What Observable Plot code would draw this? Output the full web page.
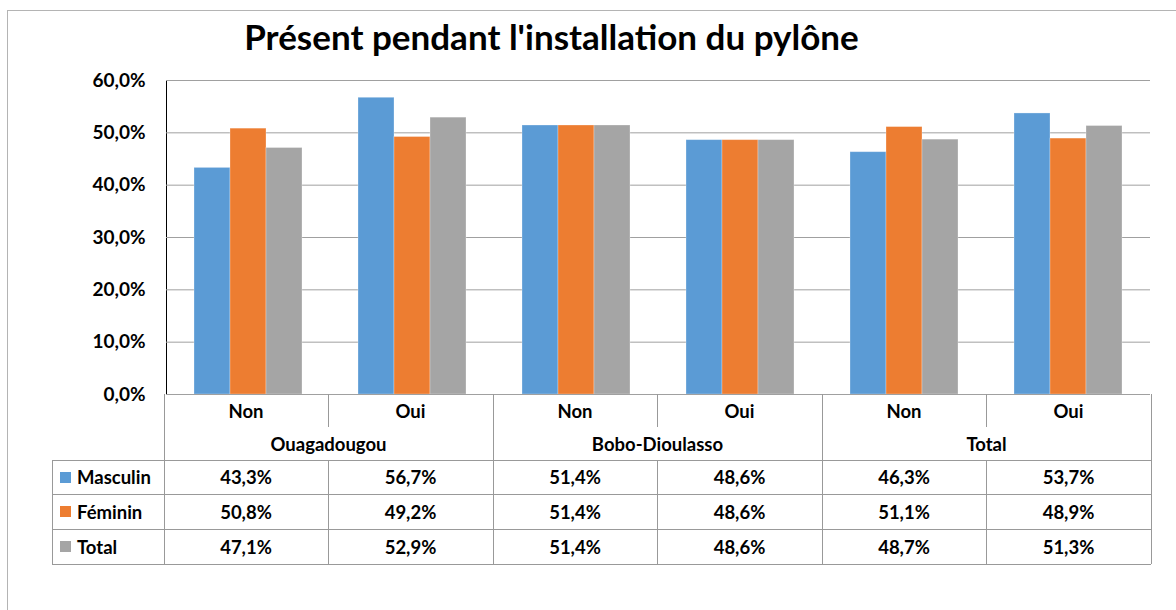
<!DOCTYPE html>
<html>
<head>
<meta charset="utf-8">
<script src="https://cdn.jsdelivr.net/npm/d3@7"></script>
<script src="https://cdn.jsdelivr.net/npm/@observablehq/plot@0.6"></script>
<style>
  html, body { margin: 0; padding: 0; background: #fff; }
  #wrap { position: relative; width: 1176px; height: 610px; overflow: hidden; font-family: Lato, "Open Sans", sans-serif; font-weight: bold; color: #000; }
  #chart { position: absolute; left: 0; top: 0; }
  .ln { position: absolute; background: #999999; }
  .cell { position: absolute; display: flex; align-items: center; justify-content: center; font-size: 18.5px; white-space: nowrap; }
  #title { position: absolute; left: 0; width: 1103px; top: 15px; text-align: center; font-size: 35px; }
  #frame { position: absolute; left: 7px; top: 10px; right: -10px; bottom: -10px; border-left: 1px solid #B4B4B4; border-top: 1px solid #B4B4B4; }
  .key { display: inline-block; width: 11px; height: 11px; margin-right: 6px; }
</style>
</head>
<body>
<div id="wrap">
  <div id="frame"></div>
  <div id="title">Présent pendant l'installation du pylône</div>
  <div id="chart"></div>
</div>
<script>
const groups = ["Ouagadougou", "Bobo-Dioulasso", "Total"];
const answers = ["Non", "Oui"];
const seriesNames = ["Masculin", "Féminin", "Total"];
const masculin = [43.3, 56.7, 51.4, 48.6, 46.3, 53.7];
const feminin  = [50.8, 49.2, 51.4, 48.6, 51.1, 48.9];
const total    = [47.1, 52.9, 51.4, 48.6, 48.7, 51.3];
const colors = ["#5B9BD5", "#ED7D31", "#A5A5A5"];
const yTicks = [0, 0.1, 0.2, 0.3, 0.4, 0.5, 0.6];

const seriesValues = [masculin, feminin, total];
const cats = [];
groups.forEach(g => answers.forEach(a => cats.push(g + " | " + a)));
const data = [];
cats.forEach((c, i) => seriesNames.forEach((s, j) => data.push({cat: c, series: s, value: seriesValues[j][i] / 100})));

const fmtPct = v => (v * 100).toFixed(1).replace(".", ",") + "%";

const plot = Plot.plot({
  width: 1176,
  height: 420,
  marginTop: 80,
  marginBottom: 26,
  marginLeft: 164,
  marginRight: 25,
  style: {fontFamily: "Lato, 'Open Sans', sans-serif", fontWeight: "bold", fontSize: "19px", color: "#000", background: "transparent"},
  fx: {domain: cats, padding: 0, axis: null},
  x: {domain: seriesNames, paddingInner: 0, paddingOuter: 0.75, axis: null},
  y: {domain: [0, 0.6], ticks: yTicks, tickFormat: fmtPct, tickSize: 0, tickPadding: 21, label: null, line: true},
  color: {domain: seriesNames, range: colors},
  marks: [
    Plot.ruleY(yTicks.filter(t => t > 0), {stroke: "#A0A0A0", strokeWidth: 1}),
    Plot.barY(data, {fx: "cat", x: "series", y: "value", fill: "series", stroke: "#ffffff", strokeOpacity: 0.35, strokeWidth: 0.8}),
    Plot.ruleY([0], {stroke: "#A0A0A0", strokeWidth: 1})
  ]
});
document.getElementById("chart").appendChild(plot);

// Data table below the plot
const wrap = document.getElementById("wrap");
const colX = [52, 164, 328, 493, 657, 822, 986, 1151];
const rowY = [394, 427, 460, 494.7, 529.3, 564];
function line(x, y, w, h) {
  const d = document.createElement("div");
  d.className = "ln";
  Object.assign(d.style, {left: x + "px", top: y + "px", width: w + "px", height: h + "px"});
  wrap.appendChild(d);
}
function cell(x0, x1, y0, y1, html, align) {
  const d = document.createElement("div");
  d.className = "cell";
  Object.assign(d.style, {left: x0 + "px", top: y0 + "px", width: (x1 - x0) + "px", height: (y1 - y0) + "px"});
  if (align) { d.style.justifyContent = "flex-start"; d.style.paddingLeft = "8px"; d.style.boxSizing = "border-box"; }
  d.innerHTML = html;
  wrap.appendChild(d);
}
// header row 1 verticals
colX.slice(1).forEach(x => line(x - 0.5, rowY[0], 1, rowY[1] - rowY[0]));
// header row 2 verticals (group boundaries)
[1, 3, 5, 7].forEach(i => line(colX[i] - 0.5, rowY[1], 1, rowY[2] - rowY[1]));
// data area verticals
colX.forEach(x => line(x - 0.5, rowY[2], 1, rowY[5] - rowY[2]));
// horizontals
[2, 3, 4, 5].forEach(r => line(colX[0], rowY[r] - 0.5, colX[7] - colX[0], 1));

// header texts
cats.forEach((c, i) => cell(colX[i + 1], colX[i + 2], rowY[0], rowY[1], answers[i % 2]));
groups.forEach((g, i) => cell(colX[2 * i + 1], colX[2 * i + 3], rowY[1], rowY[2], g));
// series rows
seriesNames.forEach((s, j) => {
  cell(colX[0], colX[1], rowY[2 + j], rowY[3 + j], '<span class="key" style="background:' + colors[j] + '"></span>' + s, true);
  seriesValues[j].forEach((v, i) => cell(colX[i + 1], colX[i + 2], rowY[2 + j], rowY[3 + j], fmtPct(v / 100)));
});
</script>
</body>
</html>
